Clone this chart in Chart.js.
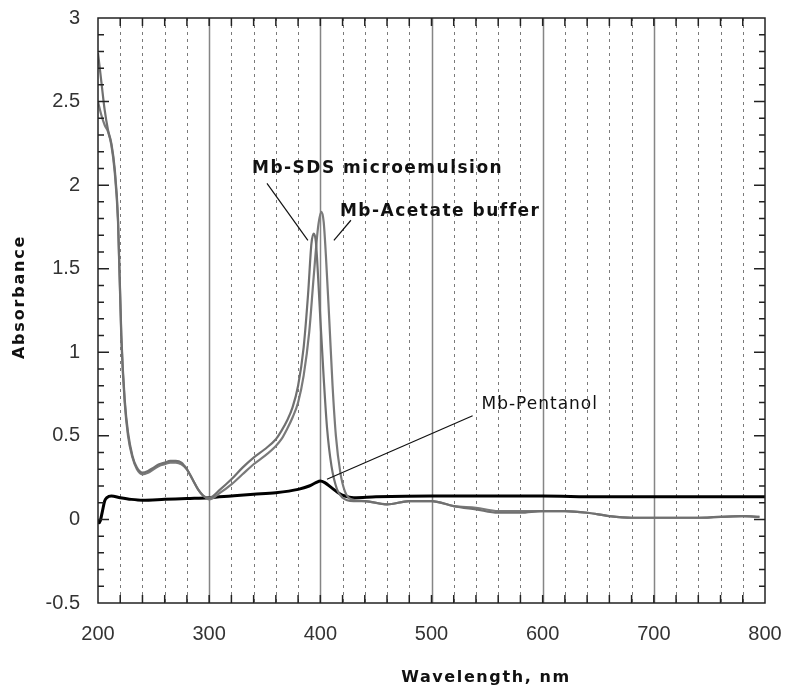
<!DOCTYPE html>
<html>
<head>
<meta charset="utf-8">
<script src="https://cdn.jsdelivr.net/npm/chart.js@4.4.1/dist/chart.umd.min.js"></script>
<style>
  html, body { margin: 0; padding: 0; background: #fff; }
  canvas { display: block; }
</style>
</head>
<body>
<canvas id="spectra" width="791" height="688"></canvas>
<script>
// Mb-SDS microemulsion
const sdsWl  = [200, 203, 206, 209, 212, 215, 218, 221, 224, 227, 231, 235, 240, 245, 250, 255, 260, 265, 270, 275, 280, 285, 290, 295, 300, 310, 320, 330, 340, 350, 360, 365, 370, 375, 380, 385, 389, 392, 394, 396, 398, 400, 403, 406, 410, 415, 420, 430, 440, 460, 480, 500, 520, 540, 560, 580, 600, 620, 640, 660, 680, 700, 740, 780, 795];
const sdsAbs = [2.79, 2.62, 2.45, 2.33, 2.25, 2.10, 1.80, 1.10, 0.72, 0.52, 0.38, 0.31, 0.28, 0.29, 0.31, 0.33, 0.34, 0.35, 0.35, 0.34, 0.30, 0.24, 0.18, 0.14, 0.13, 0.18, 0.24, 0.31, 0.37, 0.42, 0.48, 0.53, 0.59, 0.67, 0.80, 1.03, 1.35, 1.65, 1.71, 1.66, 1.45, 1.20, 0.85, 0.55, 0.32, 0.18, 0.13, 0.11, 0.11, 0.09, 0.11, 0.11, 0.08, 0.06, 0.04, 0.04, 0.05, 0.05, 0.04, 0.02, 0.01, 0.01, 0.01, 0.02, 0.015];

// Mb-Acetate buffer
const acetWl  = [200, 203, 206, 209, 212, 215, 218, 221, 224, 227, 231, 235, 240, 245, 250, 255, 260, 265, 270, 275, 280, 285, 290, 295, 300, 310, 320, 330, 340, 350, 360, 365, 370, 375, 380, 385, 390, 394, 398, 401, 403, 405, 408, 411, 414, 418, 422, 428, 440, 460, 480, 500, 520, 540, 560, 580, 600, 620, 640, 660, 680, 700, 740, 780, 795];
const acetAbs = [2.50, 2.42, 2.36, 2.32, 2.24, 2.08, 1.78, 1.08, 0.70, 0.50, 0.37, 0.30, 0.27, 0.28, 0.30, 0.32, 0.33, 0.34, 0.34, 0.33, 0.30, 0.24, 0.18, 0.14, 0.12, 0.16, 0.21, 0.27, 0.33, 0.38, 0.44, 0.48, 0.54, 0.61, 0.70, 0.86, 1.12, 1.45, 1.75, 1.84, 1.78, 1.58, 1.20, 0.80, 0.50, 0.28, 0.17, 0.12, 0.11, 0.09, 0.11, 0.11, 0.08, 0.07, 0.05, 0.05, 0.05, 0.05, 0.04, 0.02, 0.01, 0.01, 0.01, 0.02, 0.015];

// Mb-Pentanol
const pentWl  = [200, 201, 202, 204, 206, 208, 212, 220, 230, 240, 260, 280, 300, 320, 340, 360, 380, 390, 396, 400, 404, 410, 416, 422, 430, 450, 500, 550, 600, 650, 700, 750, 800];
const pentAbs = [0.00, -0.02, -0.01, 0.05, 0.11, 0.13, 0.14, 0.13, 0.12, 0.115, 0.12, 0.125, 0.13, 0.14, 0.15, 0.16, 0.18, 0.20, 0.22, 0.23, 0.22, 0.19, 0.16, 0.14, 0.13, 0.135, 0.14, 0.14, 0.14, 0.135, 0.135, 0.135, 0.135];

// labels with leader lines, in data units
const labels = [
  { text: "Mb-SDS microemulsion", wl: 338.5, abs: 2.10, bold: true, from: [352, 2.01], to: [388.8, 1.67] },
  { text: "Mb-Acetate buffer",    wl: 417.6, abs: 1.84, bold: true, from: [427.5, 1.79], to: [412.2, 1.67] },
  { text: "Mb-Pentanol",          wl: 545,   abs: 0.69, bold: false, from: [537, 0.62], to: [406, 0.24] }
];

function pairs(xs, ys) {
  return xs.map((x, i) => ({ x: x, y: ys[i] }));
}

const framePlugin = {
  id: "frame",
  beforeDatasetsDraw(chart) {
    const ctx = chart.ctx;
    const a = chart.chartArea;
    const xs = chart.scales.x;
    ctx.save();
    xs.ticks.forEach(t => {
      if (t.value <= xs.min || t.value >= xs.max) return;
      const px = Math.round(xs.getPixelForValue(t.value)) + 0.5;
      ctx.beginPath();
      if (t.value % 100 === 0) {
        ctx.setLineDash([]);
        ctx.strokeStyle = "#858585";
        ctx.lineWidth = 1.5;
      } else {
        ctx.setLineDash([3, 4]);
        ctx.strokeStyle = "#7a7a7a";
        ctx.lineWidth = 1;
      }
      ctx.moveTo(px, a.top);
      ctx.lineTo(px, a.bottom);
      ctx.stroke();
    });
    ctx.restore();
  },
  afterDraw(chart) {
    const ctx = chart.ctx;
    const a = chart.chartArea;
    const xs = chart.scales.x;
    const ys = chart.scales.y;
    ctx.save();
    ctx.setLineDash([]);
    ctx.strokeStyle = "#222";
    ctx.lineWidth = 1.5;

    // x ticks top and bottom
    xs.ticks.forEach(t => {
      if (t.value <= xs.min || t.value >= xs.max) return;
      const px = xs.getPixelForValue(t.value);
      ctx.beginPath();
      ctx.moveTo(px, a.top); ctx.lineTo(px, a.top + 8);
      ctx.moveTo(px, a.bottom); ctx.lineTo(px, a.bottom - 8);
      ctx.stroke();
    });
    // y ticks left and right, every 0.1
    for (let i = 1; i < 35; i++) {
      const v = ys.min + i * 0.1;
      const py = ys.getPixelForValue(v);
      const len = (i % 5 === 0) ? 11 : 6;
      ctx.beginPath();
      ctx.moveTo(a.left, py); ctx.lineTo(a.left + len, py);
      ctx.moveTo(a.right, py); ctx.lineTo(a.right - len, py);
      ctx.stroke();
    }
    // frame
    ctx.strokeRect(a.left, a.top, a.right - a.left, a.bottom - a.top);

    // annotations
    ctx.fillStyle = "#111";
    ctx.textBaseline = "middle";
    ctx.textAlign = "left";
    labels.forEach(l => {
      ctx.lineWidth = 1.2;
      ctx.strokeStyle = "#111";
      ctx.beginPath();
      ctx.moveTo(xs.getPixelForValue(l.from[0]), ys.getPixelForValue(l.from[1]));
      ctx.lineTo(xs.getPixelForValue(l.to[0]), ys.getPixelForValue(l.to[1]));
      ctx.stroke();
      ctx.font = (l.bold ? "bold " : "") + "17px 'DejaVu Sans'";
      ctx.letterSpacing = l.bold ? "1.5px" : "1px";
      ctx.fillText(l.text, xs.getPixelForValue(l.wl), ys.getPixelForValue(l.abs));
    });

    // axis titles
    ctx.font = "bold 16px 'DejaVu Sans'";
    ctx.letterSpacing = "1.6px";
    ctx.textAlign = "center";
    ctx.fillText("Wavelength, nm", 486, 678);
    ctx.translate(20, 297);
    ctx.rotate(-Math.PI / 2);
    ctx.letterSpacing = "1.8px";
    ctx.fillText("Absorbance", 0, 0);
    ctx.restore();
  }
};

new Chart(document.getElementById("spectra"), {
  type: "line",
  data: {
    datasets: [
      { label: "Mb-SDS microemulsion", data: pairs(sdsWl, sdsAbs), borderColor: "#707070", borderWidth: 2.2 },
      { label: "Mb-Acetate buffer", data: pairs(acetWl, acetAbs), borderColor: "#7a7a7a", borderWidth: 2.2 },
      { label: "Mb-Pentanol", data: pairs(pentWl, pentAbs), borderColor: "#000", borderWidth: 3 }
    ]
  },
  options: {
    responsive: false,
    animation: false,
    layout: { padding: { top: 18, right: 26, left: 0, bottom: 0 } },
    elements: {
      point: { radius: 0 },
      line: { cubicInterpolationMode: "monotone", fill: false }
    },
    plugins: { legend: { display: false }, tooltip: { enabled: false } },
    scales: {
      x: {
        type: "linear",
        min: 200, max: 800,
        grid: { display: false, drawTicks: false },
        border: { display: false },
        ticks: {
          stepSize: 20,
          autoSkip: false,
          maxRotation: 0,
          padding: 19,
          color: "#333",
          font: { family: "'Liberation Sans', Arial", size: 20 },
          callback: v => (v % 100 === 0 ? String(v) : "")
        },
        afterFit: s => { s.height = 85; s.paddingLeft = 0; s.paddingRight = 0; }
      },
      y: {
        min: -0.5, max: 3,
        grid: { display: false, drawTicks: false },
        border: { display: false },
        ticks: {
          stepSize: 0.5,
          padding: 18,
          color: "#333",
          font: { family: "'Liberation Sans', Arial", size: 20 },
          callback: v => String(Math.round(v * 10) / 10)
        },
        afterFit: s => { s.width = 98; s.paddingTop = 0; s.paddingBottom = 0; }
      }
    }
  },
  plugins: [framePlugin]
});
</script>
</body>
</html>
